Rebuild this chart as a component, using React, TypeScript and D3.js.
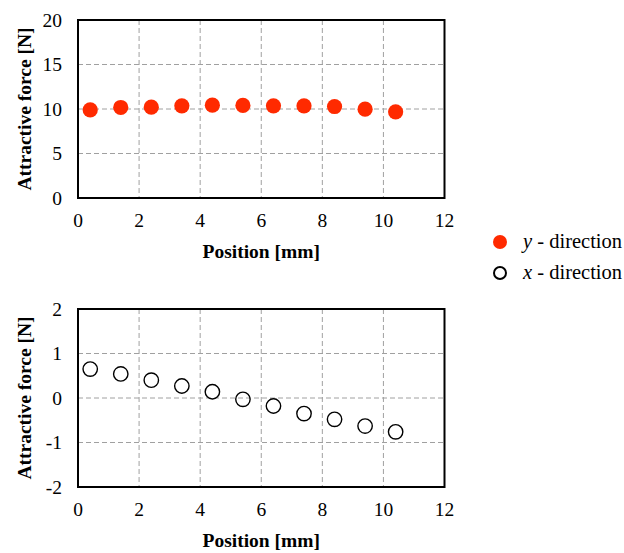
import React from "react";
import * as d3 from "d3";

const positions = [0.4, 1.4, 2.4, 3.4, 4.4, 5.4, 6.4, 7.4, 8.4, 9.4, 10.4];
const yDirection = [9.9, 10.17, 10.2, 10.36, 10.43, 10.4, 10.36, 10.36, 10.28, 9.98, 9.68];
const xDirection = [0.65, 0.54, 0.4, 0.27, 0.14, -0.03, -0.18, -0.35, -0.48, -0.63, -0.76];
const xTicks = [0, 2, 4, 6, 8, 10, 12];
const yTicksTop = [0, 5, 10, 15, 20];
const yTicksBottom = [-2, -1, 0, 1, 2];

const FONT = "Liberation Serif, Tinos, Times New Roman, DejaVu Serif, serif";

const left = 78;
const right = 444.5;

function Panel({ top, bottom, domain, ticks, data, filled }: any) {
  const x = d3.scaleLinear().domain([0, 12]).range([left, right]);
  const y = d3.scaleLinear().domain(domain).range([bottom, top]);
  const ts = { fontFamily: FONT, fontSize: 19.5 };
  const bs = { fontFamily: FONT, fontSize: 19.5, fontWeight: "bold" as const };
  return (
    <g>
      {xTicks.slice(1, -1).map((t) => (
        <line key={"gx" + t} x1={x(t)} x2={x(t)} y1={top} y2={bottom} stroke="#a0a0a0" strokeWidth={1} strokeDasharray="5,3" />
      ))}
      {ticks.slice(1, -1).map((t: number) => (
        <line key={"gy" + t} x1={left} x2={right} y1={y(t)} y2={y(t)} stroke="#a0a0a0" strokeWidth={1} strokeDasharray="5,3" />
      ))}
      <rect x={left} y={top} width={right - left} height={bottom - top} fill="none" stroke="#000" strokeWidth={2} />
      {ticks.map((t: number) => (
        <text key={"ty" + t} x={62} y={y(t)} dy="0.35em" textAnchor="end" style={ts}>{t}</text>
      ))}
      {xTicks.map((t) => (
        <text key={"tx" + t} x={x(t)} y={bottom + 29} textAnchor="middle" style={ts}>{t}</text>
      ))}
      <text x={(left + right) / 2} y={bottom + 60} textAnchor="middle" style={bs}>Position [mm]</text>
      <text transform={`translate(31,${(top + bottom) / 2}) rotate(-90)`} textAnchor="middle" style={bs}>Attractive force [N]</text>
      {data.map((v: number, i: number) => (
        <circle key={i} cx={x(positions[i])} cy={y(v)} r={filled ? 7.6 : 7.2}
          fill={filled ? "#ff2a00" : "none"} stroke={filled ? "none" : "#000"} strokeWidth={1.4} />
      ))}
    </g>
  );
}

export default function App() {
  const ls = { fontFamily: FONT, fontSize: 20.5 };
  return (
    <svg width={624} height={553} style={{ position: "absolute", left: 0, top: 0, background: "#fff" }}>
      <rect width={624} height={553} fill="#fff" />
      <Panel top={20} bottom={198} domain={[0, 20]} ticks={yTicksTop} data={yDirection} filled={true} />
      <Panel top={309} bottom={487} domain={[-2, 2]} ticks={yTicksBottom} data={xDirection} filled={false} />
      <circle cx={500} cy={242} r={7} fill="#ff2a00" />
      <text x={523} y={248} style={ls}><tspan fontStyle="italic">y</tspan> - direction</text>
      <circle cx={500} cy={273} r={6} fill="none" stroke="#000" strokeWidth={2} />
      <text x={523} y={279} style={ls}><tspan fontStyle="italic">x</tspan> - direction</text>
    </svg>
  );
}
